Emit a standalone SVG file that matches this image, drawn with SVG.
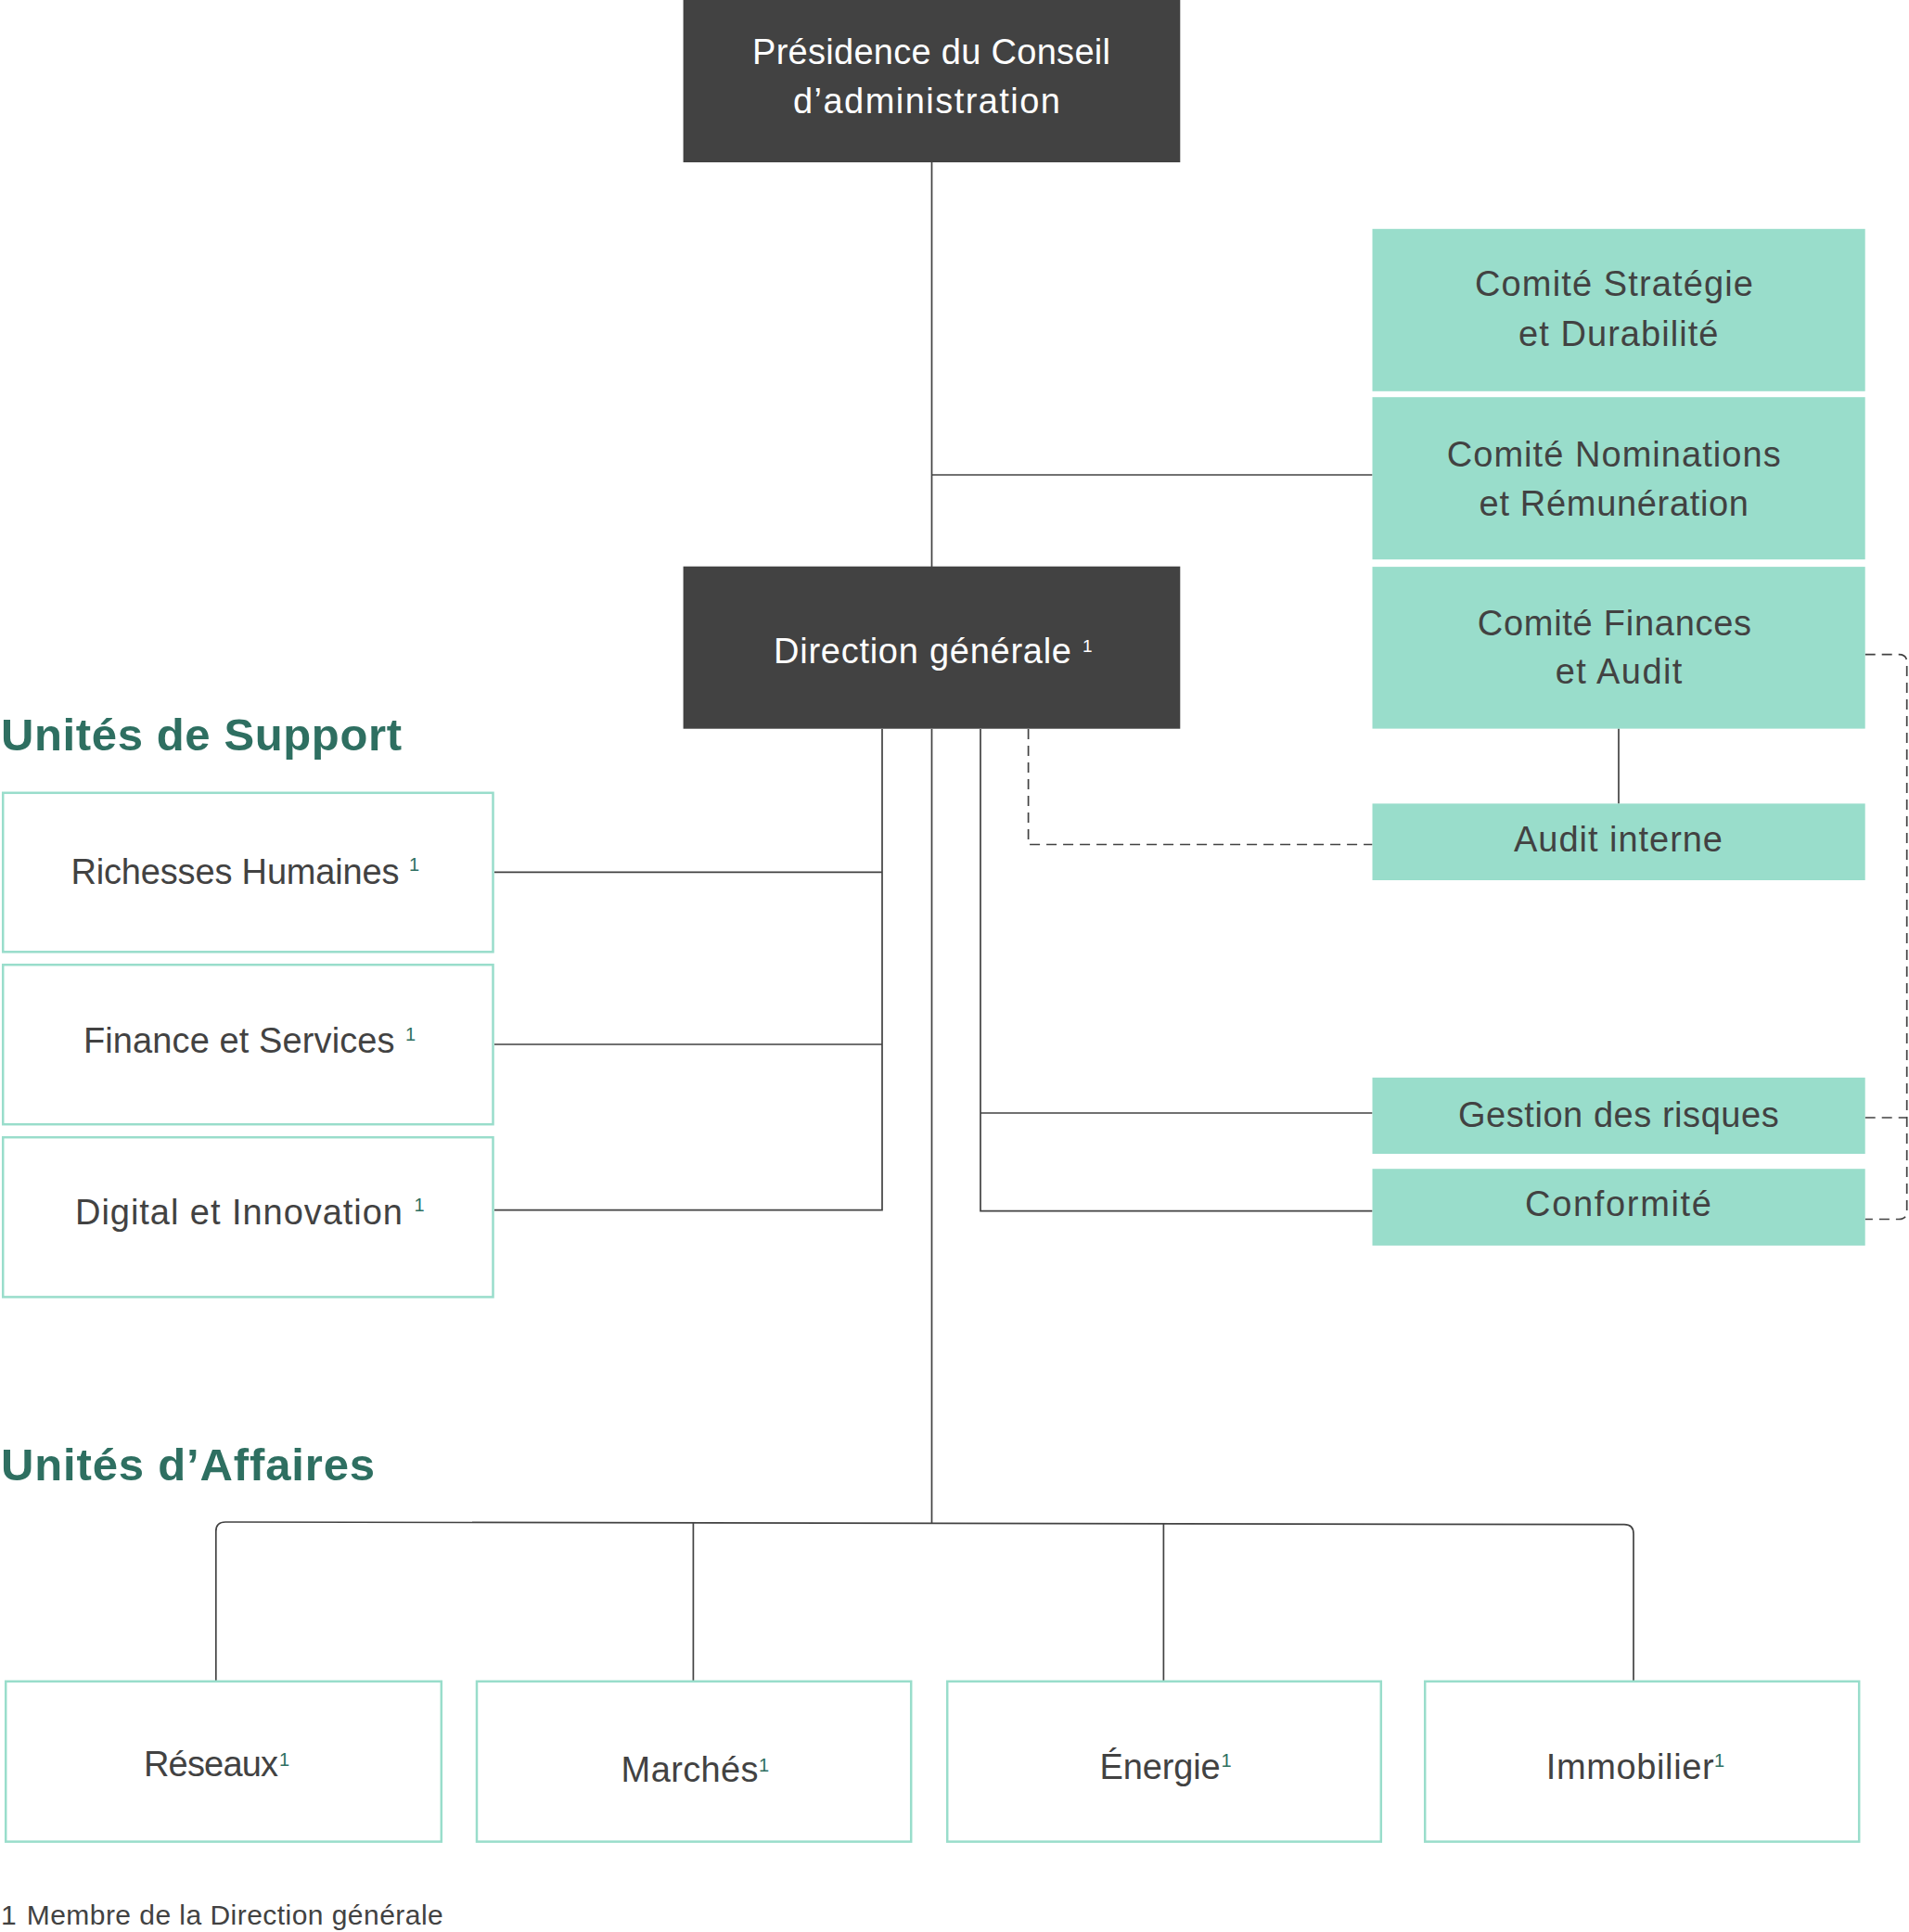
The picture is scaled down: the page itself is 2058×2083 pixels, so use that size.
<svg xmlns="http://www.w3.org/2000/svg" width="2058" height="2083" viewBox="0 0 2058 2083">
<style>
.dark{fill:#424242}
.mint{fill:#99DDCB}
.out{fill:#ffffff;stroke:#99DDCB;stroke-width:2.5}
.ln{fill:none;stroke:#424242;stroke-width:1.7}
.dash{fill:none;stroke:#424242;stroke-width:1.7;stroke-dasharray:11 7}
.t{font-family:"Liberation Sans",Arial,sans-serif;font-size:38px;fill:#424242}
.tw{font-family:"Liberation Sans",Arial,sans-serif;font-size:38px;fill:#ffffff}
.sup{font-family:"Liberation Sans",Arial,sans-serif;font-size:20px;fill:#2E6F61}
.supw{font-family:"Liberation Sans",Arial,sans-serif;font-size:19px;fill:#ffffff}
.h{font-family:"Liberation Sans",Arial,sans-serif;font-size:49px;font-weight:bold;fill:#2E6F61}
.fn{font-family:"Liberation Sans",Arial,sans-serif;font-size:30px;fill:#424242}
</style>
<rect width="2058" height="2083" fill="#ffffff"/>
<g id="connectors">
<line class="ln" x1="1004.5" y1="175" x2="1004.5" y2="611"/>
<line class="ln" x1="1004.5" y1="512" x2="1479.5" y2="512"/>
<line class="ln" x1="1004.5" y1="786" x2="1004.5" y2="1642"/>
<path class="ln" d="M533 940.3 H951 M533 1126 H951 M533 1304.6 H951 V786"/>
<path class="ln" d="M1057 786 V1305.7 H1479.5 M1057 1200 H1479.5"/>
<path class="dash" d="M1108.6 786 V910.5 H1479.5"/>
<line class="ln" x1="1745" y1="785.5" x2="1745" y2="866.4"/>
<path class="dash" d="M2010.7 705.7 H2047 Q2055.7 705.7 2055.7 714 V1306 Q2055.7 1314.5 2047 1314.5 H2010.7 M2010.7 1205 H2055.7"/>
<path class="ln" d="M232.8 1813 V1651 Q232.8 1641 243 1641 L1751 1643.7 Q1761 1643.7 1761 1653.7 V1813"/>
<line class="ln" x1="747.4" y1="1641.8" x2="747.4" y2="1813"/>
<line class="ln" x1="1254.4" y1="1642.6" x2="1254.4" y2="1813"/>
</g>
<g id="presidence">
<rect class="dark" x="736.6" y="0" width="535.7" height="175"/>
<text class="tw" x="811" y="69" textLength="386">Présidence du Conseil</text>
<text class="tw" x="855" y="122" textLength="288">d’administration</text>
</g>
<g id="comite-strategie">
<rect class="mint" x="1479.5" y="246.8" width="531.2" height="175"/>
<text class="t" x="1590" y="318.6" textLength="300">Comité Stratégie</text>
<text class="t" x="1637" y="372.9" textLength="215.5">et Durabilité</text>
</g>
<g id="comite-nominations">
<rect class="mint" x="1479.5" y="428.2" width="531.2" height="175"/>
<text class="t" x="1559.7" y="503" textLength="360">Comité Nominations</text>
<text class="t" x="1594.6" y="555.7" textLength="290.4">et Rémunération</text>
</g>
<g id="comite-finances">
<rect class="mint" x="1479.5" y="611.1" width="531.2" height="174.5"/>
<text class="t" x="1592.7" y="684.6" textLength="295.4">Comité Finances</text>
<text class="t" x="1676.8" y="737" textLength="136.5">et Audit</text>
</g>
<g id="direction-generale">
<rect class="dark" x="736.6" y="610.7" width="535.7" height="175"/>
<text class="tw" x="834" y="715" textLength="321">Direction générale</text>
<text class="supw" x="1167" y="703">1</text>
</g>
<g id="audit-interne">
<rect class="mint" x="1479.5" y="866.4" width="531.2" height="82.6"/>
<text class="t" x="1632" y="917.7" textLength="225">Audit interne</text>
</g>
<g id="gestion-risques">
<rect class="mint" x="1479.5" y="1161.8" width="531.2" height="82.2"/>
<text class="t" x="1572" y="1215.4" textLength="345.7">Gestion des risques</text>
</g>
<g id="conformite">
<rect class="mint" x="1479.5" y="1260.2" width="531.2" height="82.7"/>
<text class="t" x="1644" y="1311" textLength="201">Conformité</text>
</g>
<g id="titre-support">
<text class="h" x="1" y="808.5" textLength="432">Unités de Support</text>
</g>
<g id="richesses-humaines">
<rect class="out" x="3.2" y="854.8" width="528.3" height="171.5"/>
<text class="t" x="76.5" y="952.5" textLength="354">Richesses Humaines</text>
<text class="sup" x="441" y="938.6">1</text>
</g>
<g id="finance-services">
<rect class="out" x="3.2" y="1040.2" width="528.3" height="172"/>
<text class="t" x="90" y="1134.6" textLength="335.5">Finance et Services</text>
<text class="sup" x="437" y="1121.6">1</text>
</g>
<g id="digital-innovation">
<rect class="out" x="3.2" y="1226.2" width="528.3" height="172.2"/>
<text class="t" x="81" y="1320" textLength="353">Digital et Innovation</text>
<text class="sup" x="446.5" y="1306">1</text>
</g>
<g id="titre-affaires">
<text class="h" x="1" y="1596" textLength="403">Unités d’Affaires</text>
</g>
<g id="reseaux">
<rect class="out" x="6.2" y="1812.8" width="469.6" height="172.8"/>
<text class="t" x="155" y="1915" textLength="145">Réseaux</text>
<text class="sup" x="301" y="1904">1</text>
</g>
<g id="marches">
<rect class="out" x="514" y="1812.8" width="468.2" height="172.8"/>
<text class="t" x="669.6" y="1921.4" textLength="148">Marchés</text>
<text class="sup" x="818" y="1909.6">1</text>
</g>
<g id="energie">
<rect class="out" x="1021.2" y="1812.8" width="467.6" height="172.8"/>
<text class="t" x="1185.6" y="1918.3" textLength="130">Énergie</text>
<text class="sup" x="1316.5" y="1905">1</text>
</g>
<g id="immobilier">
<rect class="out" x="1536.2" y="1812.8" width="468" height="172.8"/>
<text class="t" x="1666.7" y="1918.3" textLength="181">Immobilier</text>
<text class="sup" x="1848" y="1905">1</text>
</g>
<g id="footnote">
<text class="fn" x="1" y="2074.8">1</text>
<text class="fn" x="28.7" y="2074.8" textLength="449">Membre de la Direction générale</text>
</g>
</svg>
